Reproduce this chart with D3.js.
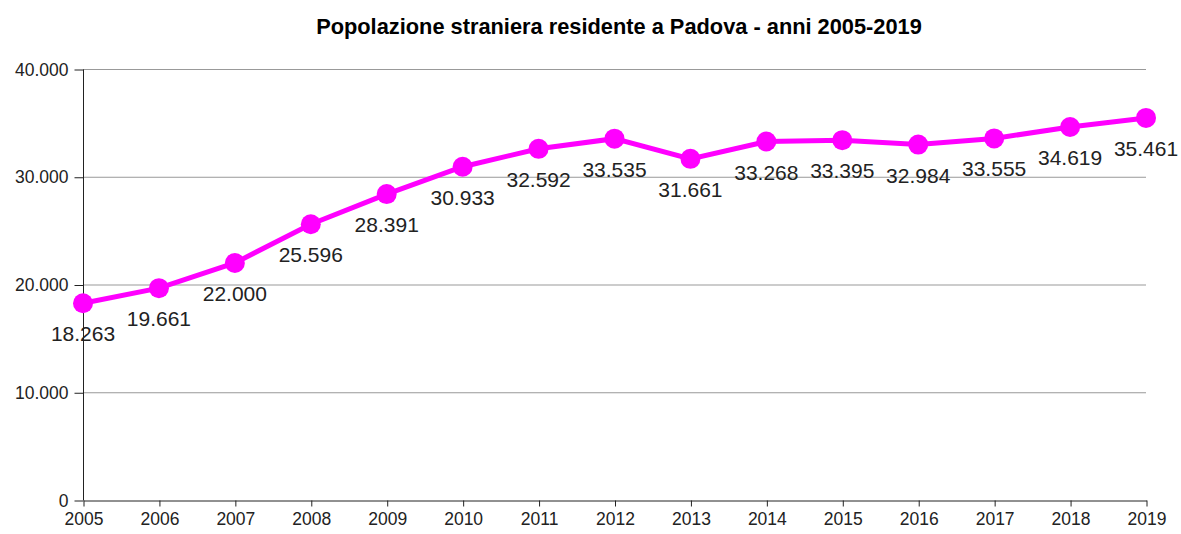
<!DOCTYPE html>
<html>
<head>
<meta charset="utf-8">
<script src="https://cdn.jsdelivr.net/npm/d3@7"></script>
<style>
  body { margin: 0; background: #fff; }
  svg { font-family: "Liberation Sans", Arial, sans-serif; }
</style>
</head>
<body>
<script>
const years = [2005, 2006, 2007, 2008, 2009, 2010, 2011, 2012, 2013, 2014, 2015, 2016, 2017, 2018, 2019];
const stranieri = [18263, 19661, 22000, 25596, 28391, 30933, 32592, 33535, 31661, 33268, 33395, 32984, 33555, 34619, 35461];
const yTicks = [0, 10000, 20000, 30000, 40000];

const width = 1181;
const height = 534;
const marginTop = 69;
const marginRight = 35;
const marginBottom = 34;
const marginLeft = 83;

const fmt = d3.formatLocale({ decimal: ",", thousands: ".", grouping: [3], currency: ["€", ""] }).format(",d");

const x = d3.scaleLinear()
    .domain([2005, 2019])
    .range([marginLeft, width - marginRight]);

const y = d3.scaleLinear()
    .domain([0, 40000])
    .range([height - marginBottom, marginTop]);

const svg = d3.select("body").append("svg")
    .attr("width", width)
    .attr("height", height)
    .attr("viewBox", [0, 0, width, height]);

// title
svg.append("text")
    .attr("x", 619)
    .attr("y", 34)
    .attr("text-anchor", "middle")
    .attr("font-size", 21.8)
    .attr("font-weight", "bold")
    .text("Popolazione straniera residente a Padova - anni 2005-2019");

// grid lines
svg.append("g")
    .selectAll("line")
    .data(yTicks.filter(d => d > 0))
    .join("line")
    .attr("x1", marginLeft)
    .attr("x2", width - marginRight)
    .attr("y1", d => y(d) + 0.5)
    .attr("y2", d => y(d) + 0.5)
    .attr("stroke", "#999")
    .attr("stroke-width", 1);

// y axis
const yAxis = svg.append("g")
    .attr("transform", `translate(${marginLeft + 0.5},0.5)`)
    .call(d3.axisLeft(y).tickValues(yTicks).tickFormat(fmt).tickSize(9).tickPadding(6));
yAxis.select(".domain").attr("stroke", "#222").attr("d", `M0,${y(40000)}V${y(0)}`);
yAxis.selectAll(".tick line").attr("stroke", "#222");
yAxis.selectAll("text").attr("font-size", 17.5).attr("fill", "#222")
    .attr("font-family", "Liberation Sans, Arial, sans-serif");

// x axis
const xAxis = svg.append("g")
    .attr("transform", `translate(0.5,${height - marginBottom + 0.5})`)
    .call(d3.axisBottom(x).tickValues(years).tickFormat(d3.format("d")).tickSize(6).tickPadding(6).tickSizeOuter(0));
xAxis.select(".domain").attr("stroke", "#222");
xAxis.selectAll(".tick line").attr("stroke", "#222");
xAxis.selectAll("text").attr("font-size", 17.5).attr("fill", "#222")
    .attr("font-family", "Liberation Sans, Arial, sans-serif");

const data = years.map((yr, i) => ({ year: yr, value: stranieri[i] }));

const line = d3.line()
    .x(d => x(d.year))
    .y(d => y(d.value));

svg.append("path")
    .datum(data)
    .attr("fill", "none")
    .attr("stroke", "#ff00ff")
    .attr("stroke-width", 5)
    .attr("d", line);

svg.append("g")
    .selectAll("circle")
    .data(data)
    .join("circle")
    .attr("cx", d => x(d.year))
    .attr("cy", d => y(d.value))
    .attr("r", 10)
    .attr("fill", "#ff00ff");

svg.append("g")
    .selectAll("text")
    .data(data)
    .join("text")
    .attr("x", d => x(d.year))
    .attr("y", d => y(d.value) + 38)
    .attr("text-anchor", "middle")
    .attr("font-size", 21)
    .attr("fill", "#222")
    .text(d => fmt(d.value));
</script>
</body>
</html>
